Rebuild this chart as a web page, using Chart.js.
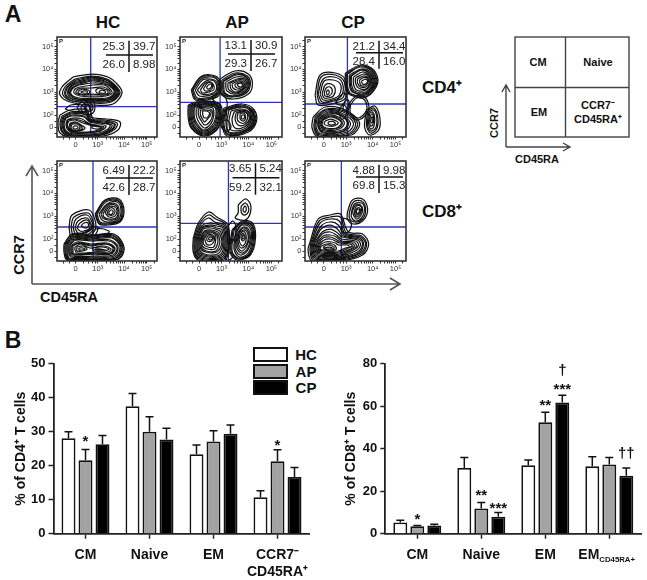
<!DOCTYPE html>
<html>
<head>
<meta charset="utf-8">
<script src="https://cdn.jsdelivr.net/npm/chart.js@4"></script>
<style>
  body { margin: 0; background: #fff; width: 647px; height: 580px; position: relative; overflow: hidden;
         font-family: "Liberation Sans", Arial, sans-serif; color: #111; }
  canvas { position: absolute; }
  .t { position: absolute; font-weight: bold; white-space: nowrap; line-height: 1; transform: translate(-50%, -50%); }
  .swatch { position: absolute; left: 253px; width: 31px; height: 11px; border: 2px solid #111; }
  svg { position: absolute; left: 0; top: 0; }
</style>
</head>
<body>
<svg width="647" height="580">
  <g fill="none" stroke="#555" stroke-width="1.6">
    <path d="M32 284V167M26 176L32 166L38 176"/>
    <path d="M32 284H399M390 278L400 284L390 290"/>
  </g>
  <g fill="none" stroke="#444" stroke-width="1.4">
    <rect x="515" y="37" width="114" height="100"/>
    <path d="M565.5 37V137M515 87.5H629"/>
    <path d="M506 147V86M502 92L506 85L510 92M506 147H569M563 143L570 147L563 151"/>
  </g>
</svg>
<div class="t" style="left:13px;top:14px;font-size:23px">A</div>
<div class="t" style="left:13px;top:340px;font-size:23px">B</div>
<div class="t" style="left:108px;top:22px;font-size:17px">HC</div>
<div class="t" style="left:237px;top:22px;font-size:17px">AP</div>
<div class="t" style="left:353px;top:22px;font-size:17px">CP</div>
<div class="t" style="left:442px;top:87px;font-size:17px">CD4⁺</div>
<div class="t" style="left:442px;top:211px;font-size:17px">CD8⁺</div>
<div class="t" style="left:19px;top:255px;font-size:14.5px;transform:translate(-50%,-50%) rotate(-90deg)">CCR7</div>
<div class="t" style="left:69px;top:297px;font-size:14.5px">CD45RA</div>
<div class="t" style="left:538px;top:62px;font-size:11px">CM</div>
<div class="t" style="left:598px;top:62px;font-size:11px">Naive</div>
<div class="t" style="left:539px;top:112px;font-size:11px">EM</div>
<div class="t" style="left:598px;top:105px;font-size:11px">CCR7⁻</div>
<div class="t" style="left:598px;top:119px;font-size:11px">CD45RA⁺</div>
<div class="t" style="left:494px;top:123px;font-size:11px;transform:translate(-50%,-50%) rotate(-90deg)">CCR7</div>
<div class="t" style="left:537px;top:159px;font-size:11px">CD45RA</div>
<div id="legend"></div>
<script>
// ---- bar chart data ----
var seriesNames = ['HC', 'AP', 'CP'];
var seriesFills = ['#ffffff', '#a3a3a3', '#000000'];
var cd4Categories = ['CM', 'Naive', 'EM', ['CCR7⁻', 'CD45RA⁺']];
var cd8Categories = ['CM', 'Naive', 'EM', ['EM', 'CD45RA+']];

var cd4Hc = [28.1, 37.5, 23.4, 10.7];
var cd4Ap = [21.6, 30.0, 27.1, 21.3];
var cd4Cp = [26.3, 27.7, 29.4, 16.7];
var cd4HcTop = [30.0, 41.2, 26.1, 12.6];
var cd4ApTop = [24.8, 34.4, 30.3, 24.7];
var cd4CpTop = [28.9, 31.0, 32.0, 19.5];

var cd8Hc = [5.3, 30.9, 32.2, 31.7];
var cd8Ap = [3.5, 11.9, 52.5, 32.6];
var cd8Cp = [3.9, 8.0, 61.8, 27.3];
var cd8HcTop = [6.3, 35.9, 34.7, 36.2];
var cd8ApTop = [3.9, 14.7, 57.1, 35.9];
var cd8CpTop = [4.4, 10.0, 65.1, 30.9];

// category, series, text, value at the middle of the glyph
var cd4Marks = [[0, 1, '*', 27.8], [3, 1, '*', 26.8]];
var cd8Marks = [[0, 1, '*', 8], [1, 1, '**', 19.3], [1, 2, '***', 13], [2, 1, '**', 61.8],
                [2, 2, '***', 68.9], [2, 2, '†', 76.5], [3, 2, '††', 37.5]];

// ---- flow panel data: tick positions in plot channels, gates and quadrant numbers ----
var xMajor = [18.7, 40.7, 67, 89.7];
var xMajorLabels = ['0', '10³', '10⁴', '10⁵'];
var yMajor = [10, 21.7, 45, 68, 90.3];
var yMajorLabels = ['0', '10²', '10³', '10⁴', '10⁵'];
var xMinor = [6, 12, 26, 31, 35, 38, 49, 53, 56, 59, 61, 63, 65, 75, 79, 82, 84, 86, 88, 97];
var yMinor = [4, 16, 29, 33, 36, 39, 41, 43, 52, 56, 59, 62, 64, 66, 74, 78, 81, 84, 86, 88, 97];

var hcCd4Stats = ['25.3', '39.7', '26.0', '8.98'];
var apCd4Stats = ['13.1', '30.9', '29.3', '26.7'];
var cpCd4Stats = ['21.2', '34.4', '28.4', '16.0'];
var hcCd8Stats = ['6.49', '22.2', '42.6', '28.7'];
var apCd8Stats = ['3.65', '5.24', '59.2', '32.1'];
var cpCd8Stats = ['4.88', '9.98', '69.8', '15.3'];

var hcCd4Gate = [33.7, 30.3];
var apCd4Gate = [39.3, 34.7];
var cpCd4Gate = [42, 33];
var hcCd8Gate = [36, 34];
var apCd8Gate = [47.5, 37.7];
var cpCd8Gate = [36, 34];

// contour loops traced by eye, x,y,x,y... in plot channels
var hcCd4Loops = [
  [16,60,35,63,51,60,61,52,65,44,56,33,35,32,13,35,3,42,5,50],
  [18,58,35,61,50,58,59,51,63,44,54,35,35,34,15,36,6,42,8,50],
  [19,57,35,60,50,57,58,51,62,44,54,36,35,35,16,36,8,42,10,50],
  [20,56,35,59,49,57,58,50,61,44,53,37,35,36,18,37,9,42,11,50],
  [21,55,35,58,48,56,57,50,60,44,52,37,36,37,19,37,11,42,13,50],
  [21,54,36,57,48,55,56,50,59,44,51,38,36,38,20,38,12,43,14,50],
  [22,53,36,56,47,54,55,50,58,44,50,38,36,38,21,38,13,43,15,49],
  [22,52,36,54,47,53,55,49,57,44,50,39,36,39,22,39,14,43,16,49],
  [23,50,36,52,47,52,53,48,55,44,49,41,36,41,23,41,17,44,18,48],
  [24,49,35,49,46,50,52,47,53,44,48,42,36,43,25,42,19,44,20,47],
  [25,48,31,47,33,45,30,43,24,43,21,45],
  [26,46,30,46,30,44,26,44,24,45],
  [42,49,50,47,51,44,47,43,40,44,39,47],
  [44,47,48,46,48,44,44,44,42,45],
  [3,22,13,27,30,27,33,20,50,18,63,15,61,7,46,1,13,0,3,4,1,14],
  [5,21,14,25,29,25,33,18,48,17,60,14,58,8,45,2,14,1,5,5,3,14],
  [6,20,14,24,28,24,33,17,47,16,58,13,56,8,44,2,15,1,6,5,4,13],
  [7,20,14,23,28,23,33,17,46,15,57,13,55,8,44,3,15,2,7,6,5,13],
  [8,19,15,22,27,21,33,16,45,14,55,12,53,8,43,3,16,2,8,6,6,13],
  [9,19,15,21,27,20,33,15,44,14,53,12,51,8,42,4,16,3,9,6,7,13],
  [10,17,16,19,25,18,33,13,42,13,49,11,47,8,40,5,17,4,11,7,9,12],
  [11,17,17,18,25,16,35,12,43,11,47,10,42,6,18,4,12,7,10,12],
  [12,16,18,17,26,14,36,11,44,10,45,9,38,6,18,5,12,8,10,12],
  [13,14,19,15,24,12,28,9,22,6,15,6,12,9],
  [14,14,20,14,24,11,25,8,20,6,15,7,13,10],
  [15,13,20,13,23,10,21,7,16,7,14,9],
  [17,11,20,11,21,9,18,8,16,9],
  [35,11,41,11,44,9,40,8,35,9],
  [20,30,25,36,30,38,36,36,38,30,36,24,30,22,24,24],
  [24,30,28,34,33,34,36,30,34,26,29,25,25,26],
  [27,30,30,32,34,30,32,27,28,27],
  [8,28,14,32,24,32,30,28,26,25,14,26],
  [29,38,33,28,35,20,37,16,33,15,31,22,28,30]
];
var apCd4Loops = [
  [39,58,54,66,67,63,71,53,67,43,52,38,41,42,39,50],
  [41,57,54,64,66,61,69,53,65,44,52,40,42,43,41,50],
  [42,56,55,63,65,60,68,53,64,45,52,41,43,44,42,50],
  [43,56,55,62,65,60,67,53,64,45,52,41,44,44,43,50],
  [45,55,55,60,64,59,66,53,63,46,53,43,46,46,45,50],
  [47,54,56,58,63,58,65,53,62,47,54,44,48,47,47,50],
  [49,54,56,57,62,57,64,53,62,48,55,45,50,48],
  [51,53,57,56,62,55,63,52,61,48,56,47,52,49],
  [54,53,58,55,61,54,62,52,60,49,56,49,54,51],
  [56,53,59,54,61,53,61,51,59,50,57,51],
  [11,47,20,60,31,62,39,57,39,43,31,38,15,37],
  [12,47,20,59,31,61,38,56,38,44,31,39,16,38],
  [13,47,21,58,31,60,37,56,37,44,30,40,17,39],
  [15,47,22,57,30,58,36,55,36,45,30,42,19,41],
  [17,47,24,55,30,57,35,54,35,46,29,43,21,43],
  [20,47,25,54,30,55,33,52,33,47,28,45,22,44],
  [23,48,27,54,31,54,32,50,30,47,25,46],
  [26,50,29,53,31,52,30,49,27,48],
  [8,32,20,36,39,33,41,20,36,7,23,1,11,9,8,20],
  [9,31,20,35,38,33,40,20,35,7,23,2,12,9,9,20],
  [10,31,21,34,37,32,39,20,34,8,23,3,13,10,10,20],
  [11,31,21,33,37,31,38,20,34,8,23,4,14,10,11,20],
  [12,31,22,33,36,31,37,20,33,9,23,5,15,11,12,20],
  [13,30,22,32,35,30,36,20,32,10,23,6,16,12,13,20],
  [14,30,23,31,34,30,35,20,31,11,23,7,17,13,14,20],
  [16,29,24,30,32,29,33,21,30,13,24,9,19,14,16,21],
  [18,28,25,29,31,27,32,22,29,15,24,12,21,16,18,22],
  [20,27,26,27,30,26,30,22,27,18,24,15,22,18,20,22],
  [22,26,26,26,29,24,28,21,26,19,23,20],
  [43,29,61,33,72,28,75,16,67,5,46,1,41,14],
  [44,28,60,32,71,27,74,16,66,6,47,2,42,14],
  [45,28,60,31,70,27,73,16,65,6,47,3,43,14],
  [46,27,60,30,70,26,72,16,65,7,48,4,45,15],
  [48,27,60,30,69,26,71,16,64,7,48,5,46,15],
  [50,26,60,28,68,25,70,17,63,8,50,7,48,16],
  [53,25,60,27,67,25,69,17,63,10,54,9,51,17],
  [55,24,61,26,66,24,68,18,63,12,57,12,54,18],
  [57,24,62,25,66,23,66,18,63,14,58,15,56,19],
  [59,23,62,24,64,22,64,18,62,16,59,18],
  [61,22,63,22,63,19,61,18,60,20],
  [30,40,40,44,46,36,45,24,42,18,38,26,35,34],
  [40,15,46,17,50,10,46,6,41,9]
];
var cpCd4Loops = [
  [40,64,55,72,68,67,72,54,61,40,45,42,40,50],
  [41,63,55,71,67,66,71,54,61,41,45,43,41,50],
  [42,63,55,70,67,65,70,54,60,42,46,43,42,51],
  [44,62,56,68,66,64,69,54,60,43,47,45,44,52],
  [45,61,56,67,65,63,68,54,60,44,48,45,45,52],
  [46,61,56,67,65,62,67,54,60,45,49,46,46,53],
  [48,60,57,65,64,61,66,55,60,47,51,47,48,53],
  [50,59,58,63,64,60,65,55,60,48,53,49,50,54],
  [52,58,58,61,63,59,64,55,60,50,55,50,52,54],
  [54,57,59,60,63,57,62,54,59,51,55,52],
  [56,56,60,58,62,56,60,53,57,53],
  [10,42,15,62,30,64,40,57,40,39,30,34,13,32],
  [12,42,16,60,30,62,39,55,38,40,29,36,15,34],
  [13,43,18,58,29,60,37,54,36,41,28,37,17,35],
  [15,43,19,56,28,57,35,53,34,42,27,38,18,37],
  [17,43,20,52,26,53,30,48,28,41,23,39,19,39],
  [19,44,21,49,25,50,27,45,24,41,20,41],
  [21,45,23,47,24,44,22,42],
  [8,20,20,30,40,27,54,14,46,2,13,0,7,9],
  [10,20,21,28,39,26,52,14,45,3,14,1,9,9],
  [11,19,21,27,38,25,50,14,44,4,15,2,10,9],
  [12,19,22,26,36,24,48,14,42,5,16,3,11,10],
  [13,18,23,25,35,23,45,14,40,6,18,4,13,10],
  [14,18,23,24,35,22,43,14,38,6,18,5,13,11],
  [15,18,24,23,34,22,42,14,37,7,19,6,14,11],
  [16,17,24,22,33,20,39,14,34,8,20,7,15,12],
  [17,17,25,21,32,19,37,14,33,9,21,8,16,12],
  [18,17,25,20,32,18,36,14,31,9,21,9,17,12],
  [20,16,26,18,31,16,33,14,29,11,23,11,19,13],
  [23,15,27,16,29,15,30,13,26,12,23,13],
  [61,27,69,31,74,20,73,7,64,2,59,10],
  [62,26,68,29,72,20,71,8,65,4,61,11],
  [63,25,68,27,71,20,70,9,65,6,62,12],
  [64,24,67,25,69,19,68,10,65,8,63,14],
  [65,22,67,23,68,18,67,12,65,11,64,16],
  [66,20,67,20,67,16,66,14,65,16],
  [45,32,51,39,59,37,61,27,53,19,45,24],
  [43,33,51,41,60,39,63,27,53,17,43,23],
  [38,32,42,38,44,32,42,26,38,27],
  [33,27,38,32,41,29,40,20,36,18],
  [30,34,38,44,41,41,38,33,34,32]
];
var hcCd8Loops = [
  [38,47,48,61,62,62,67,51,63,39,50,36,42,37],
  [39,47,48,60,61,61,66,51,63,40,50,37,42,38],
  [40,47,49,59,61,60,65,51,62,40,50,38,43,39],
  [42,47,50,57,60,59,64,51,61,41,51,39,45,41],
  [44,47,50,56,59,57,62,51,60,42,51,41,46,43],
  [46,47,51,55,58,56,61,51,59,43,52,42,47,44],
  [48,48,52,54,58,54,60,50,58,45,52,44],
  [50,48,53,53,57,52,58,49,56,46,52,46],
  [52,49,54,51,56,50,55,47,52,47],
  [12,34,15,46,32,51,38,41,38,31,30,24,15,22],
  [14,34,17,44,31,48,36,40,36,31,29,26,17,24],
  [16,34,19,42,30,46,35,39,35,32,28,28,19,26],
  [18,33,21,40,30,43,34,37,34,32,28,29,21,28],
  [20,33,23,38,30,41,33,36,32,32,27,30,23,30],
  [24,35,27,38,31,38,31,34,28,33],
  [7,17,15,27,35,26,57,27,67,14,62,2,37,1,10,1,7,9],
  [8,17,15,26,35,25,56,26,66,14,61,2,37,1,11,1,8,9],
  [9,17,16,25,35,24,56,25,65,14,60,3,37,2,11,2,9,9],
  [10,17,16,24,35,23,55,24,64,14,59,3,37,2,12,2,10,9],
  [11,17,17,23,35,22,55,23,63,14,58,4,37,3,12,3,11,9],
  [12,16,18,22,35,21,53,21,61,14,57,5,37,4,14,4,12,9],
  [13,16,19,21,35,20,52,20,60,14,56,6,38,5,15,5,13,9],
  [14,15,20,19,34,17,50,18,58,13,54,7,38,7,16,6,14,10],
  [15,15,21,18,34,16,49,17,57,13,54,8,38,7,16,7,15,10],
  [16,15,22,18,34,15,48,17,56,13,53,8,38,8,17,7,16,10],
  [18,14,24,17,33,13,46,15,54,12,51,9,40,9,20,8,18,11],
  [20,14,26,15,30,12,26,10,20,10],
  [22,13,26,13,28,12,25,11,22,11],
  [35,13,44,14,52,12,47,10,37,10],
  [38,12,44,12,48,11,43,11,38,11],
  [29,28,34,33,41,34,38,26,32,24],
  [34,24,39,32,52,30,50,27,40,26]
];
var apCd8Loops = [
  [13,23,18,38,28,49,36,44,47,36,48,13,44,1,18,1,13,9],
  [14,23,19,37,28,46,35,42,45,36,47,13,43,2,19,2,14,9],
  [15,23,20,36,28,43,34,39,44,35,46,14,42,3,20,3,15,9],
  [16,23,21,35,29,38,35,37,43,34,45,14,41,4,21,4,16,10],
  [17,23,22,34,29,36,36,35,42,33,44,15,40,5,22,5,17,10],
  [18,23,22,33,30,35,36,33,41,31,43,16,39,6,23,6,18,11],
  [19,23,23,32,30,33,37,31,40,29,42,17,37,7,24,7,19,12],
  [20,23,24,30,31,31,37,29,39,27,41,18,36,9,25,9,20,13],
  [21,23,24,29,31,30,37,27,38,25,39,18,35,10,26,10,21,14],
  [22,23,25,28,32,29,36,26,37,23,37,18,34,12,27,12,22,15],
  [23,23,26,27,32,28,35,25,35,21,33,14,27,14,23,17],
  [24,23,27,26,32,26,34,23,33,19,30,16,26,17],
  [26,23,28,25,33,24,31,20,27,20],
  [28,23,30,24,32,23,30,21,28,22],
  [51,31,61,40,71,38,74,23,69,6,56,1,49,9],
  [52,31,61,39,70,37,73,23,68,6,57,2,50,10],
  [53,31,61,38,70,36,72,23,68,7,57,3,51,10],
  [55,30,61,37,69,35,71,23,67,8,58,4,53,12],
  [56,30,61,36,68,34,70,23,66,10,59,6,54,13],
  [57,29,62,34,67,32,69,23,66,12,60,8,55,15],
  [58,29,62,33,66,31,68,24,65,14,60,10,56,17],
  [58,28,62,31,65,30,67,24,65,16,60,13,57,19],
  [59,27,62,30,64,28,65,24,64,18,61,15,58,21],
  [60,26,62,28,63,26,64,23,62,20,60,22],
  [61,25,62,26,63,24,62,22,61,23],
  [57,56,64,62,69,57,69,48,64,41,54,43,57,48],
  [60,55,64,58,67,54,67,49,63,46,60,49],
  [62,53,64,55,65,52,64,49,62,50],
  [47,35,52,40,55,33,52,20,47,17],
  [44,4,48,8,52,6,50,2,46,1]
];
var cpCd8Loops = [
  [42,49,47,61,57,62,62,52,58,41,48,37,42,42],
  [44,49,48,59,56,60,60,52,57,42,49,39,44,43],
  [46,49,49,57,56,58,59,52,56,43,50,40,46,44],
  [47,50,50,56,55,56,57,51,55,45,51,42,48,46],
  [49,50,51,55,55,55,56,51,54,46,51,44,49,47],
  [50,50,52,53,54,53,55,50,53,47,51,46],
  [51,50,52,52,54,51,53,48,51,48],
  [5,19,13,42,25,46,35,47,43,29,57,27,63,17,57,6,35,0,7,0,3,11],
  [6,19,14,40,25,44,35,44,41,28,56,25,61,17,56,7,35,1,8,1,5,11],
  [7,19,15,38,25,42,34,40,40,27,55,24,60,17,55,8,35,2,9,2,6,11],
  [8,19,16,35,25,39,33,36,39,26,54,23,58,17,53,8,35,3,10,3,7,11],
  [9,19,16,32,25,36,32,32,38,25,53,22,57,17,52,9,35,4,11,4,8,11],
  [10,19,17,29,25,32,31,29,37,24,52,21,55,16,50,10,35,5,12,5,9,11],
  [11,18,17,27,25,29,31,26,36,22,50,20,53,16,48,11,35,6,13,6,10,11],
  [12,18,18,25,25,26,31,24,36,20,48,19,51,15,47,12,35,7,14,7,11,11],
  [13,17,18,23,25,24,30,22,35,19,46,18,49,15,45,12,34,8,15,8,12,11],
  [14,17,19,21,25,22,30,20,34,18,44,17,47,15,43,13,34,9,16,9,13,12],
  [15,16,20,19,26,19,30,18,33,16,42,16,44,14,40,13,33,10,17,10,14,12],
  [16,15,21,17,27,17,30,15,31,12,26,10,18,11,15,12],
  [18,14,22,16,27,15,29,13,26,11,19,12],
  [19,13,23,14,27,13,25,12,20,12],
  [38,43,45,40,45,32,40,28,36,31],
  [36,5,40,7,40,3,36,3],
  [14,5,30,6,36,2,25,1,13,2],
  [17,4,28,5,32,3,22,2]
];

// px from the panel corner: cross centre x, y and the two text rows
var panels = [
  { name: 'hcCd4', left: 57,  top: 37,  w: 100, loops: hcCd4Loops, gate: hcCd4Gate, stats: hcCd4Stats, cross: [72, 18, 9.7, 28] },
  { name: 'apCd4', left: 180, top: 37,  w: 102, loops: apCd4Loops, gate: apCd4Gate, stats: apCd4Stats, cross: [71, 17, 9, 27] },
  { name: 'cpCd4', left: 305, top: 37,  w: 101, loops: cpCd4Loops, gate: cpCd4Gate, stats: cpCd4Stats, cross: [74, 15.7, 9.7, 24.7] },
  { name: 'hcCd8', left: 57,  top: 161, w: 100, loops: hcCd8Loops, gate: hcCd8Gate, stats: hcCd8Stats, cross: [72, 17, 10, 27] },
  { name: 'apCd8', left: 180, top: 161, w: 102, loops: apCd8Loops, gate: apCd8Gate, stats: apCd8Stats, cross: [75.5, 16.7, 8.3, 26.7] },
  { name: 'cpCd8', left: 305, top: 161, w: 101, loops: cpCd8Loops, gate: cpCd8Gate, stats: cpCd8Stats, cross: [74, 16, 9.7, 25] }
];

var FONT = '"Liberation Sans", Arial, sans-serif';
Chart.defaults.font.family = FONT;
Chart.defaults.animation = false;

function addCanvas(left, top, w, h) {
  var c = document.createElement('canvas');
  c.width = w; c.height = h;
  c.style.left = left + 'px'; c.style.top = top + 'px';
  c.style.width = w + 'px'; c.style.height = h + 'px';
  document.body.appendChild(c);
  return c;
}

function loopPoints(flat) {
  var pts = [];
  for (var i = 0; i < flat.length; i += 2) pts.push({ x: flat[i], y: flat[i + 1] });
  pts.push({ x: flat[0], y: flat[1] });
  return pts;
}

function axisTicks(values, labels, minor) {
  return {
    min: 0, max: 100, type: 'linear',
    afterBuildTicks: function (s) {
      s.ticks = values.concat(minor).sort(function (a, b) { return a - b; }).map(function (v) { return { value: v }; });
    },
    grid: { drawOnChartArea: false, tickLength: 2.5, tickColor: '#333', tickWidth: 1 },
    border: { display: false },
    ticks: {
      autoSkip: false, maxRotation: 0, padding: 1, color: '#333', font: { size: 7.5 },
      callback: function (v) { var i = values.indexOf(v); return i < 0 ? '' : labels[i]; }
    }
  };
}

var panelDecor = {
  id: 'panelDecor',
  afterDatasetsDraw: function (chart, args, o) {
    var c = chart.ctx, a = chart.chartArea, cr = o.cross;
    c.save();
    c.strokeStyle = '#333'; c.lineWidth = 1.6;
    c.strokeRect(a.left, a.top, a.width, a.height);
    var cx = a.left + cr[0], cy = a.top + cr[1];
    c.strokeStyle = '#111'; c.lineWidth = 1.5;
    c.beginPath();
    c.moveTo(cx - 23, cy); c.lineTo(cx + 24, cy);
    c.moveTo(cx, a.top + cr[2] - 6); c.lineTo(cx, a.top + cr[3] + 7);
    c.stroke();
    c.fillStyle = '#222'; c.font = '11.5px ' + FONT; c.textBaseline = 'middle';
    c.textAlign = 'right';
    c.fillText(o.stats[0], cx - 4, a.top + cr[2]);
    c.fillText(o.stats[2], cx - 4, a.top + cr[3]);
    c.textAlign = 'left';
    c.fillText(o.stats[1], cx + 4, a.top + cr[2]);
    c.fillText(o.stats[3], cx + 4, a.top + cr[3]);
    c.font = 'bold 6px ' + FONT;
    c.fillText('P', a.left + 2, a.top + 4);
    c.restore();
  }
};

panels.forEach(function (p) {
  var ml = 30, mt = 8, mr = 6, mb = 20;
  var sets = p.loops.map(function (l) {
    return { data: loopPoints(l), showLine: true, pointRadius: 0, borderColor: '#111', borderWidth: 1.25, tension: 0.35, fill: false };
  });
  var gateStyle = { showLine: true, pointRadius: 0, borderColor: '#2b35b5', borderWidth: 1.3, tension: 0, fill: false };
  sets.push(Object.assign({ data: [{ x: p.gate[0], y: 0 }, { x: p.gate[0], y: 100 }] }, gateStyle));
  sets.push(Object.assign({ data: [{ x: 0, y: p.gate[1] }, { x: 100, y: p.gate[1] }] }, gateStyle));
  var x = axisTicks(xMajor, xMajorLabels, xMinor);
  var y = axisTicks(yMajor, yMajorLabels, yMinor);
  x.afterFit = function (s) { s.height = mb; };
  y.afterFit = function (s) { s.width = ml; };
  new Chart(addCanvas(p.left - ml, p.top - mt, ml + p.w + mr, mt + 100 + mb), {
    type: 'scatter',
    data: { datasets: sets },
    plugins: [panelDecor],
    options: {
      responsive: false,
      layout: { padding: { top: mt, right: mr } },
      scales: { x: x, y: y },
      plugins: { legend: { display: false }, tooltip: { enabled: false }, panelDecor: { cross: p.cross, stats: p.stats } }
    }
  });
});

var barDecor = {
  id: 'barDecor',
  afterDatasetsDraw: function (chart, args, o) {
    var c = chart.ctx, ys = chart.scales.y, xs = chart.scales.x;
    c.save();
    c.strokeStyle = '#111'; c.lineWidth = 1.5;
    o.tops.forEach(function (tops, s) {
      var bars = chart.getDatasetMeta(s).data;
      tops.forEach(function (v, i) {
        var bx = bars[i].x, top = ys.getPixelForValue(v);
        c.beginPath();
        c.moveTo(bx, bars[i].y); c.lineTo(bx, top);
        c.moveTo(bx - 4, top); c.lineTo(bx + 4, top);
        c.stroke();
      });
    });
    c.fillStyle = '#111'; c.textAlign = 'center'; c.textBaseline = 'middle';
    o.marks.forEach(function (m) {
      var bx = chart.getDatasetMeta(m[1]).data[m[0]].x, star = m[2].charAt(0) === '*';
      c.font = 'bold ' + (star ? 15 : 15) + 'px ' + FONT;
      c.fillText(m[2], bx, ys.getPixelForValue(m[3]) + (star ? 3 : 0));
    });
    if (o.subscript) {
      var parts = chart.data.labels[o.subscript], tx = xs.getPixelForValue(o.subscript) - 31, ty = xs.top + 20.5;
      c.textAlign = 'left'; c.textBaseline = 'alphabetic';
      c.font = 'bold 14px ' + FONT;
      c.fillText(parts[0], tx, ty + 5);
      var w = c.measureText(parts[0]).width;
      c.font = 'bold 7.8px ' + FONT;
      c.fillText(parts[1], tx + w, ty + 8);
    }
    c.restore();
  }
};

function barChart(left, axisW, width, labels, values, tops, marks, yMax, yStep, title, titlePad, subscript) {
  var padTop = 23.7, xH = 46.3;
  new Chart(addCanvas(left, 340, width, 240), {
    type: 'bar',
    data: {
      labels: labels,
      datasets: values.map(function (v, s) {
        return { label: seriesNames[s], data: v, backgroundColor: seriesFills[s], borderColor: '#111', borderWidth: 1.8,
                 categoryPercentage: 0.797, barPercentage: 0.82 };
      })
    },
    plugins: [barDecor],
    options: {
      responsive: false,
      layout: { padding: { top: padTop, right: width - axisW - 256 } },
      scales: {
        x: {
          afterFit: function (s) { s.height = xH; },
          grid: { drawOnChartArea: false, tickLength: 5, tickColor: '#222', tickWidth: 1.5, offset: false },
          border: { color: '#222', width: 1.8 },
          ticks: {
            color: '#111', padding: 7, maxRotation: 0, autoSkip: false,
            font: { size: 14, weight: 'bold', lineHeight: 1.28 },
            callback: function (v, i) { return i === subscript ? '' : this.getLabelForValue(v); }
          }
        },
        y: {
          min: 0, max: yMax,
          afterFit: function (s) { s.width = axisW; },
          grid: { drawOnChartArea: false, tickLength: 5, tickColor: '#222', tickWidth: 1.5 },
          border: { color: '#222', width: 1.8 },
          ticks: { stepSize: yStep, color: '#111', padding: 3, font: { size: 13, weight: 'bold' } },
          title: { display: true, text: title, color: '#111', font: { size: 14, weight: 'bold' }, padding: { top: titlePad, bottom: 0 } }
        }
      },
      plugins: {
        legend: { display: false }, tooltip: { enabled: false },
        barDecor: { tops: tops, marks: marks, subscript: subscript }
      }
    }
  });
}

barChart(0, 53.5, 320, cd4Categories, [cd4Hc, cd4Ap, cd4Cp], [cd4HcTop, cd4ApTop, cd4CpTop], cd4Marks, 50, 10, '% of CD4⁺ T cells', 13, null);
barChart(320, 65.3, 327, cd8Categories, [cd8Hc, cd8Ap, cd8Cp], [cd8HcTop, cd8ApTop, cd8CpTop], cd8Marks, 80, 20, '% of CD8⁺ T cells', 23, 3);

// legend in the corner of the CD4 chart, built from the series lists
var legendTops = [347, 364, 380];
seriesNames.forEach(function (n, i) {
  var box = document.createElement('div');
  box.className = 'swatch';
  box.style.top = legendTops[i] + 'px';
  box.style.background = seriesFills[i];
  document.getElementById('legend').appendChild(box);
  var lab = document.createElement('div');
  lab.className = 't';
  lab.textContent = n;
  lab.style.cssText = 'left:306px;top:' + (legendTops[i] + 7) + 'px;font-size:15px';
  document.getElementById('legend').appendChild(lab);
});
</script>
</body>
</html>
